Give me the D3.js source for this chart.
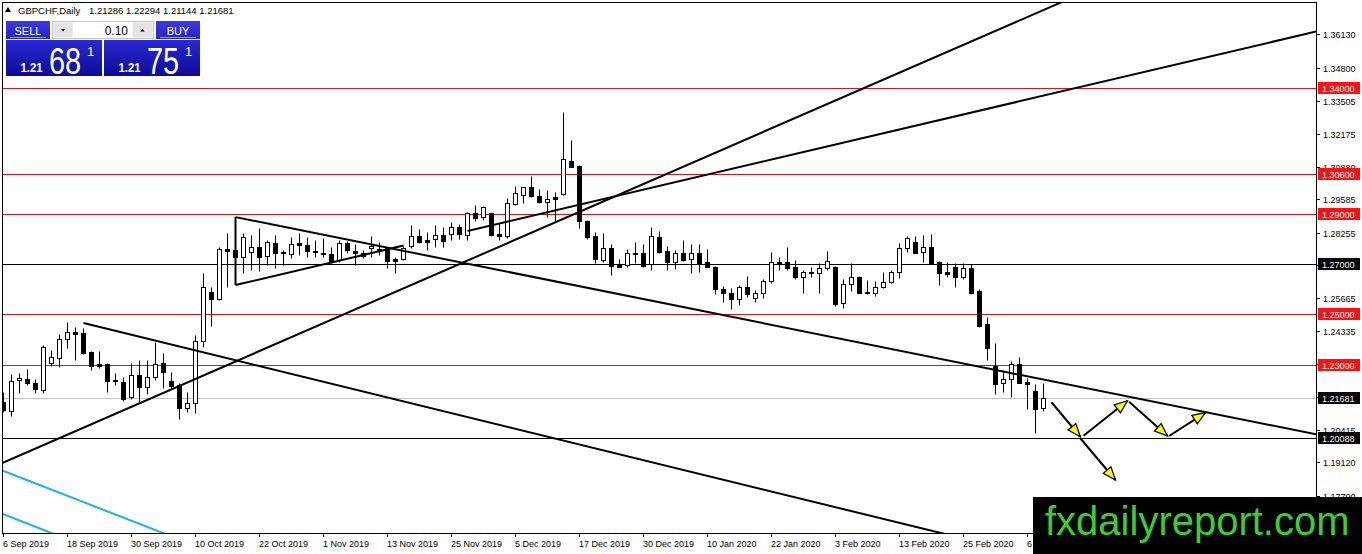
<!DOCTYPE html>
<html>
<head>
<meta charset="utf-8">
<script src="https://cdn.jsdelivr.net/npm/d3@7"></script>
<style>
  html, body { margin: 0; padding: 0; background: #fff; overflow: hidden; }
  svg text { font-family: "Liberation Sans", Arial, sans-serif; }
</style>
</head>
<body>
<svg id="chart" width="1362" height="554"></svg>
<script>
// GBPCHF daily candles, 6 Sep 2019 .. 10 Mar 2020
const opens = [1.2153,1.2117,1.2238,1.2242,1.2229,1.2200,1.2308,1.2326,1.2401,1.2429,
  1.2425,1.2351,1.2303,1.2303,1.2238,1.2233,1.2173,1.2259,1.2213,1.2253,
  1.2307,1.2236,1.2220,1.2127,1.2147,1.2395,1.2588,1.2560,1.2759,1.2756,
  1.2727,1.2750,1.2769,1.2732,1.2785,1.2747,1.2740,1.2783,1.2775,1.2753,
  1.2746,1.2739,1.2717,1.2785,1.2753,1.2746,1.2763,1.2760,1.2765,1.2719,
  1.2719,1.2773,1.2812,1.2796,1.2799,1.2816,1.2819,1.2847,1.2816,1.2902,
  1.2886,1.2902,1.2820,1.2812,1.2939,1.2976,1.3005,1.2972,1.2946,1.2966,
  1.2978,1.3110,1.3090,1.2873,1.2812,1.2717,1.2763,1.2695,1.2695,1.2746,
  1.2746,1.2699,1.2807,1.2752,1.2709,1.2746,1.2719,1.2743,1.2709,1.2690,
  1.2600,1.2584,1.2560,1.2608,1.2564,1.2584,1.2633,1.2703,1.2710,1.2687,
  1.2648,1.2670,1.2664,1.2684,1.2690,1.2544,1.2620,1.2648,1.2589,1.2584,
  1.2610,1.2628,1.2668,1.2763,1.2789,1.2747,1.2767,1.2710,1.2668,1.2687,
  1.2650,1.2684,1.2594,1.2461,1.2296,1.2226,1.2242,1.2303,1.2232,1.2196,
  1.21286];
const highs = [1.2192,1.2263,1.2269,1.2282,1.2243,1.2379,1.2359,1.2421,1.2469,1.2451,
  1.2447,1.2356,1.2355,1.2308,1.2269,1.2253,1.2306,1.2319,1.2319,1.2392,
  1.2346,1.2270,1.2229,1.2191,1.2418,1.2664,1.2608,1.2769,1.2823,1.2796,
  1.2823,1.2816,1.2845,1.2796,1.2816,1.2756,1.2809,1.2823,1.2807,1.2796,
  1.2803,1.2769,1.2796,1.2793,1.2780,1.2756,1.2812,1.2789,1.2769,1.2727,
  1.2773,1.2856,1.2839,1.2829,1.2856,1.2849,1.2869,1.2860,1.2909,1.2935,
  1.2931,1.2905,1.2862,1.2962,1.3011,1.3008,1.3050,1.2998,1.2995,1.2988,
  1.3306,1.3194,1.3094,1.2876,1.2829,1.2825,1.2780,1.2719,1.2759,1.2789,
  1.2780,1.2849,1.2832,1.2773,1.2756,1.2796,1.2780,1.2780,1.2759,1.2693,
  1.2613,1.2604,1.2617,1.2653,1.2597,1.2640,1.2750,1.2730,1.2767,1.2717,
  1.2677,1.2690,1.2706,1.2752,1.2693,1.2640,1.2703,1.2653,1.2637,1.2633,
  1.2670,1.2677,1.2783,1.2812,1.2812,1.2816,1.2820,1.2712,1.2707,1.2706,
  1.2706,1.2701,1.2600,1.2489,1.2385,1.2279,1.2316,1.2332,1.2246,1.2224,
  1.22294];
const lows = [1.2112,1.2096,1.2187,1.2220,1.2187,1.2189,1.2295,1.2292,1.2368,1.2319,
  1.2342,1.2279,1.2286,1.2193,1.2220,1.2156,1.2164,1.2153,1.2183,1.2240,
  1.2207,1.2207,1.2083,1.2111,1.2110,1.2372,1.2454,1.2558,1.2608,1.2709,
  1.2666,1.2677,1.2674,1.2697,1.2684,1.2697,1.2723,1.2736,1.2730,1.2730,
  1.2730,1.2703,1.2710,1.2743,1.2697,1.2723,1.2730,1.2736,1.2684,1.2666,
  1.2717,1.2763,1.2783,1.2756,1.2769,1.2769,1.2796,1.2799,1.2796,1.2873,
  1.2876,1.2812,1.2796,1.2803,1.2935,1.2942,1.2968,1.2942,1.2889,1.2869,
  1.2975,1.3087,1.2843,1.2799,1.2703,1.2710,1.2657,1.2687,1.2690,1.2703,
  1.2690,1.2677,1.2746,1.2677,1.2680,1.2713,1.2664,1.2670,1.2687,1.2581,
  1.2551,1.2521,1.2538,1.2571,1.2551,1.2564,1.2624,1.2677,1.2677,1.2640,
  1.2587,1.2650,1.2587,1.2677,1.2534,1.2525,1.2594,1.2585,1.2581,1.2573,
  1.2606,1.2624,1.2644,1.2747,1.2743,1.2710,1.2703,1.2617,1.2648,1.2610,
  1.2640,1.2581,1.2451,1.2319,1.2184,1.2193,1.2173,1.2226,1.2123,1.2030,
  1.21144];
const closes = [1.2120,1.2237,1.2246,1.2226,1.2203,1.2372,1.2330,1.2401,1.2429,1.2421,
  1.2348,1.2296,1.2296,1.2237,1.2236,1.2164,1.2259,1.2213,1.2250,1.2303,
  1.2273,1.2217,1.2127,1.2149,1.2395,1.2608,1.2560,1.2759,1.2753,1.2727,
  1.2807,1.2769,1.2727,1.2789,1.2743,1.2743,1.2780,1.2775,1.2753,1.2747,
  1.2740,1.2713,1.2785,1.2756,1.2743,1.2734,1.2772,1.2752,1.2714,1.2714,
  1.2765,1.2812,1.2789,1.2789,1.2816,1.2792,1.2847,1.2819,1.2905,1.2882,
  1.2926,1.2816,1.2813,1.2944,1.2982,1.3005,1.2972,1.2946,1.2959,1.2959,
  1.3117,1.3087,1.2873,1.2809,1.2719,1.2763,1.2693,1.2690,1.2743,1.2740,
  1.2693,1.2812,1.2750,1.2710,1.2746,1.2717,1.2743,1.2706,1.2690,1.2600,
  1.2584,1.2560,1.2610,1.2580,1.2584,1.2634,1.2709,1.2710,1.2684,1.2648,
  1.2668,1.2664,1.2684,1.2711,1.2542,1.2621,1.2648,1.2587,1.2584,1.2610,
  1.2629,1.2670,1.2763,1.2803,1.2746,1.2767,1.2706,1.2666,1.2661,1.2650,
  1.2684,1.2587,1.2454,1.2366,1.2222,1.2242,1.2303,1.2229,1.2222,1.2123,
  1.21681];

const dateLabels = ["6 Sep 2019","18 Sep 2019","30 Sep 2019","10 Oct 2019","22 Oct 2019",
  "1 Nov 2019","13 Nov 2019","25 Nov 2019","5 Dec 2019","17 Dec 2019","30 Dec 2019",
  "10 Jan 2020","22 Jan 2020","3 Feb 2020","13 Feb 2020","25 Feb 2020","6 Mar 2020"];
const dateLabelBars = [0,8,16,24,32,40,48,56,64,72,80,88,96,104,112,120,128];

const priceTicks = [1.36130,1.34800,1.33505,1.32175,1.30880,1.29585,1.28255,1.26960,
  1.25665,1.24335,1.23040,1.21710,1.20415,1.19120,1.17790];

const redLevels = [1.34000, 1.30600, 1.29000, 1.25000, 1.23000];
const blackLevels = [1.27000, 1.20088];
const bid = 1.21681, ask = 1.21751, lots = "0.10";

// drawn objects as [bar, price] pairs
const trendRays = [
  [[58, 1.2832], [164.0, 1.3624]],
  [[29, 1.2887], [164.0, 1.2024]],
  [[10, 1.2466], [116.7, 1.1635]]
];
const trendExtended = [[[0, 1.1912], [132.3, 1.3742]]];
const trendSegments = [
  [[29, 1.2617], [50, 1.2774]],
  [[29, 1.2887], [29, 1.2617]]
];
const cyanLines = [
  [[0, 1.1878], [19.8, 1.1633]],
  [[0, 1.1706], [5.85, 1.1633]]
];
const arrows = [
  [[131.0, 1.2151], [134.6, 1.2014]],
  [[135.0, 1.2018], [140.5, 1.2157]],
  [[140.7, 1.2153], [145.5, 1.2017]],
  [[145.7, 1.2017], [150.25, 1.2110]],
  [[134.6, 1.2008], [139.0, 1.1842]]
];

const svg = d3.select("#chart");
const plot = {l: 2, t: 2, r: 1316, b: 533};

const x = d3.scaleLinear().domain([0, 130]).range([3.5, 1043.5]);
const y = d3.scaleLinear().domain([1.20, 1.34]).range([440.25, 88.05]);
const py = v => Math.round(y(v)) + 0.5;

const defs = svg.append("defs");
defs.append("clipPath").attr("id", "plotClip")
  .append("rect").attr("x", plot.l).attr("y", plot.t)
  .attr("width", plot.r - plot.l).attr("height", plot.b - plot.t);

const g = svg.append("g").attr("clip-path", "url(#plotClip)");

// horizontal levels
g.selectAll(".red").data(redLevels).enter().append("line")
  .attr("x1", plot.l).attr("x2", plot.r).attr("y1", py).attr("y2", py)
  .attr("stroke", "#d01818").attr("stroke-width", 1);
g.selectAll(".blk").data(blackLevels).enter().append("line")
  .attr("x1", plot.l).attr("x2", plot.r).attr("y1", py).attr("y2", py)
  .attr("stroke", "#000").attr("stroke-width", 1);
g.append("line").attr("x1", plot.l).attr("x2", plot.r)
  .attr("y1", py(bid)).attr("y2", py(bid))
  .attr("stroke", "#c0c0c0").attr("stroke-width", 1);

// candles
const bars = d3.range(opens.length);
g.selectAll(".wick").data(bars).enter().append("line")
  .attr("x1", i => x(i)).attr("x2", i => x(i))
  .attr("y1", i => py(highs[i])).attr("y2", i => py(lows[i]))
  .attr("stroke", "#000").attr("stroke-width", 1);
bars.forEach(i => {
  const top = py(Math.max(opens[i], closes[i]));
  const bot = py(Math.min(opens[i], closes[i]));
  const up = closes[i] >= opens[i];
  if (bot - top < 1) {
    g.append("line").attr("x1", x(i) - 2.5).attr("x2", x(i) + 2.5)
      .attr("y1", top).attr("y2", top).attr("stroke", "#000");
  } else {
    g.append("rect").attr("x", x(i) - 2).attr("y", top)
      .attr("width", 4).attr("height", bot - top)
      .attr("fill", up ? "#fff" : "#000").attr("stroke", "#000")
      .attr("shape-rendering", "crispEdges");
  }
});

// trend lines
const line = d3.line().x(d => x(d[0])).y(d => y(d[1]));
function stretch(seg, back, fwd) {
  const [a, b] = seg;
  const pt = t => [a[0] + t * (b[0] - a[0]), a[1] + t * (b[1] - a[1])];
  return [pt(back), pt(fwd)];
}
trendRays.forEach(s => g.append("path").attr("d", line(stretch(s, 0, 20)))
  .attr("stroke", "#000").attr("stroke-width", 2).attr("fill", "none"));
trendExtended.forEach(s => g.append("path").attr("d", line(stretch(s, -20, 20)))
  .attr("stroke", "#000").attr("stroke-width", 2).attr("fill", "none"));
trendSegments.forEach(s => g.append("path").attr("d", line(s))
  .attr("stroke", "#000").attr("stroke-width", 2).attr("fill", "none"));
cyanLines.forEach(s => g.append("path").attr("d", line(stretch(s, -20, 20)))
  .attr("stroke", "#1cb4e6").attr("stroke-width", 2).attr("fill", "none"));

// arrows
arrows.forEach(s => {
  const x0 = x(s[0][0]), y0 = y(s[0][1]), x1 = x(s[1][0]), y1 = y(s[1][1]);
  g.append("line").attr("x1", x0).attr("y1", y0).attr("x2", x1).attr("y2", y1)
    .attr("stroke", "#000").attr("stroke-width", 2);
  const len = Math.hypot(x1 - x0, y1 - y0), ux = (x1 - x0) / len, uy = (y1 - y0) / len;
  const bx = x1 - 13 * ux, by = y1 - 13 * uy;
  g.append("path")
    .attr("d", `M${x1},${y1}L${bx - 5 * uy},${by + 5 * ux}L${bx + 5 * uy},${by - 5 * ux}Z`)
    .attr("fill", "#ffff00").attr("stroke", "#000").attr("stroke-width", 1.3);
});

// frame
svg.append("rect").attr("x", plot.l + 0.5).attr("y", plot.t + 0.5)
  .attr("width", plot.r - plot.l).attr("height", plot.b - plot.t)
  .attr("fill", "none").attr("stroke", "#000").attr("shape-rendering", "crispEdges");

// price axis
const fmt = d3.format(".5f");
priceTicks.forEach(p => {
  svg.append("line").attr("x1", plot.r).attr("x2", plot.r + 4)
    .attr("y1", py(p)).attr("y2", py(p)).attr("stroke", "#000");
  svg.append("text").attr("x", 1323).attr("y", py(p)).attr("dy", "0.35em")
    .attr("font-size", 9).attr("fill", "#000").text(fmt(p));
});
function marker(p, bg) {
  svg.append("rect").attr("x", 1318).attr("y", Math.round(y(p)) - 6)
    .attr("width", 42).attr("height", 12).attr("fill", bg);
  svg.append("text").attr("x", 1322).attr("y", py(p)).attr("dy", "0.35em")
    .attr("font-size", 9).attr("fill", "#fff").text(fmt(p));
}
redLevels.forEach(p => marker(p, "#ff1010"));
blackLevels.forEach(p => marker(p, "#000"));
marker(bid, "#000");

// time axis
dateLabelBars.forEach((b, k) => {
  svg.append("line").attr("x1", x(b)).attr("x2", x(b))
    .attr("y1", plot.b).attr("y2", plot.b + 4).attr("stroke", "#000");
  svg.append("text").attr("x", x(b) - 0.5).attr("y", 546.5)
    .attr("font-size", 9).attr("fill", "#000").text(dateLabels[k]);
});

// header
const last = opens.length - 1;
svg.append("path").attr("d", "M5,12L8,7L11,12Z").attr("fill", "#000");
svg.append("text").attr("x", 18).attr("y", 13.5).attr("font-size", 9.5).text("GBPCHF,Daily");
svg.append("text").attr("x", 89).attr("y", 13.5).attr("font-size", 9.5)
  .text([opens[last], highs[last], lows[last], closes[last]].map(fmt).join(" "));

// one-click trading panel
const gBtn = defs.append("linearGradient").attr("id", "gBtn").attr("x1", 0).attr("y1", 0).attr("x2", 0).attr("y2", 1);
gBtn.append("stop").attr("offset", "0").attr("stop-color", "#3a3ae0");
gBtn.append("stop").attr("offset", "1").attr("stop-color", "#2424c6");
const gPx = defs.append("linearGradient").attr("id", "gPx").attr("x1", 0).attr("y1", 0).attr("x2", 0).attr("y2", 1);
gPx.append("stop").attr("offset", "0").attr("stop-color", "#2a2ad2");
gPx.append("stop").attr("offset", "1").attr("stop-color", "#0c0c98");

const pan = svg.append("g");
[[6, "SELL"], [156, "BUY"]].forEach(([bx, t]) => {
  pan.append("rect").attr("x", bx).attr("y", 21).attr("width", 44).attr("height", 18).attr("fill", "url(#gBtn)");
  pan.append("line").attr("x1", bx + 4).attr("x2", bx + 40).attr("y1", 37.5).attr("y2", 37.5)
    .attr("stroke", "#9c9cf2").attr("stroke-width", 1);
  pan.append("text").attr("x", bx + 22).attr("y", 34.5).attr("text-anchor", "middle")
    .attr("font-size", 11).attr("fill", "#fff").text(t);
});
pan.append("rect").attr("x", 52.5).attr("y", 21.5).attr("width", 101).attr("height", 17)
  .attr("fill", "#fff").attr("stroke", "#c4c4c4");
pan.append("rect").attr("x", 53.5).attr("y", 22.5).attr("width", 19).attr("height", 15).attr("fill", "#e4e4e4");
pan.append("rect").attr("x", 132.5).attr("y", 22.5).attr("width", 20).attr("height", 15).attr("fill", "#e4e4e4");
pan.append("path").attr("d", "M61,29L65,29L63,31.5Z").attr("fill", "#000");
pan.append("path").attr("d", "M140.5,31.5L144.5,31.5L142.5,29Z").attr("fill", "#000");
pan.append("text").attr("x", 128).attr("y", 34.5).attr("text-anchor", "end")
  .attr("font-size", 12).attr("fill", "#000").text(lots);

function priceBox(bx, p) {
  const s = p.toFixed(5);
  pan.append("rect").attr("x", bx).attr("y", 40).attr("width", 96).attr("height", 36).attr("fill", "url(#gPx)");
  pan.append("text").attr("x", bx + 14.5).attr("y", 72).attr("font-size", 12).attr("font-weight", "bold")
    .attr("fill", "#fff").attr("textLength", 22).attr("lengthAdjust", "spacingAndGlyphs").text(s.slice(0, 4));
  pan.append("text").attr("transform", `translate(${bx + 43},73.5) scale(0.78,1)`)
    .attr("font-size", 37).attr("fill", "#fff").text(s.slice(4, 6));
  pan.append("text").attr("x", bx + 81).attr("y", 56).attr("font-size", 13)
    .attr("fill", "#fff").text(s.slice(6));
}
priceBox(6, bid);
priceBox(104, ask);

// watermark
svg.append("rect").attr("x", 1033).attr("y", 497).attr("width", 329).attr("height", 57).attr("fill", "#000");
svg.append("text").attr("x", 1045).attr("y", 535).attr("font-size", 40)
  .attr("fill", "#3ccf2c").text("fxdailyreport.com");
</script>
</body>
</html>
